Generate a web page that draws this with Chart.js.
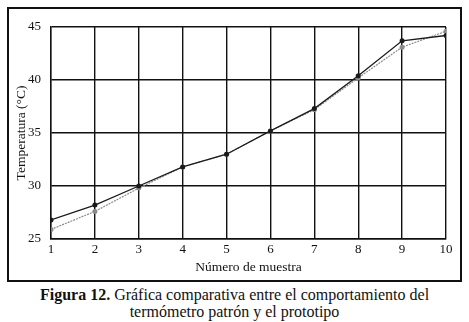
<!DOCTYPE html>
<html>
<head>
<meta charset="utf-8">
<script src="https://cdn.jsdelivr.net/npm/chart.js@4"></script>
<style>
  html, body { margin: 0; padding: 0; background: #fff; }
  body { width: 469px; height: 322px; position: relative; overflow: hidden; }
  #frame {
    position: absolute; left: 7px; top: 7px; width: 451px; height: 271px;
    border: 2px solid #111;
  }
  #caption {
    position: absolute; left: 0; top: 286px; width: 469px;
    text-align: center; font-family: "Liberation Serif", serif; font-size: 16px;
    line-height: 17px; color: #111;
  }
</style>
</head>
<body>
<div id="frame"><canvas id="chart" width="451" height="271"></canvas></div>
<div id="caption"><b>Figura 12.</b> Gráfica comparativa entre el comportamiento del<br>termómetro patrón y el prototipo</div>
<script>
// Sample numbers (x axis)
const muestras = [1, 2, 3, 4, 5, 6, 7, 8, 9, 10];
// Readings of the two thermometers
const serieNegra = [26.8, 28.2, 30.0, 31.8, 33.0, 35.2, 37.3, 40.4, 43.7, 44.2];
const serieGris = [25.9, 27.6, 29.8, 31.8, 33.0, 35.2, 37.2, 40.2, 43.1, 44.6];
// Axis ticks
const ticksY = [25, 30, 35, 40, 45];

document.addEventListener('DOMContentLoaded', function () {
    const serif = '"Liberation Serif", serif';
    const ctx = document.getElementById('chart').getContext('2d');

    new Chart(ctx, {
        type: 'line',
        data: {
            datasets: [{
                label: 'Serie 1',
                data: muestras.map((m, i) => ({ x: m, y: serieNegra[i] })),
                borderColor: '#1a1a1a',
                backgroundColor: '#1a1a1a',
                borderWidth: 1.3,
                pointRadius: 2.5,
                pointBorderWidth: 0,
                tension: 0
            }, {
                label: 'Serie 2',
                data: muestras.map((m, i) => ({ x: m, y: serieGris[i] })),
                borderColor: '#8a8a8a',
                backgroundColor: '#8a8a8a',
                borderWidth: 1.2,
                borderDash: [2, 1],
                pointRadius: 2.5,
                pointBorderWidth: 0,
                tension: 0
            }]
        },
        options: {
            responsive: false,
            animation: false,
            layout: { padding: { top: 18, right: 14, left: 0, bottom: 0 } },
            plugins: {
                legend: { display: false },
                tooltip: { enabled: false }
            },
            scales: {
                x: {
                    type: 'linear',
                    min: 1,
                    max: 10,
                    afterFit: function (scale) { scale.height = 41; },
                    ticks: {
                        stepSize: 1,
                        padding: 3,
                        color: '#111',
                        font: { family: serif, size: 13 }
                    },
                    grid: { color: '#111', lineWidth: 1.4, drawTicks: false },
                    border: { color: '#111', width: 1.4 },
                    title: {
                        display: true,
                        text: 'Número de muestra',
                        color: '#111',
                        font: { family: serif, size: 13.5 },
                        padding: { top: 4, bottom: 4 }
                    }
                },
                y: {
                    min: 25,
                    max: 45,
                    afterFit: function (scale) { scale.width = 42; },
                    afterBuildTicks: function (scale) {
                        scale.ticks = ticksY.map(v => ({ value: v }));
                    },
                    ticks: {
                        padding: 10,
                        color: '#111',
                        font: { family: serif, size: 13 }
                    },
                    grid: { color: '#111', lineWidth: 1.4, drawTicks: false },
                    border: { color: '#111', width: 1.4 },
                    title: {
                        display: true,
                        text: 'Temperatura (°C)',
                        color: '#111',
                        font: { family: serif, size: 13.5 },
                        padding: { top: 4, bottom: 0 }
                    }
                }
            }
        }
    });
});
</script>
</body>
</html>
